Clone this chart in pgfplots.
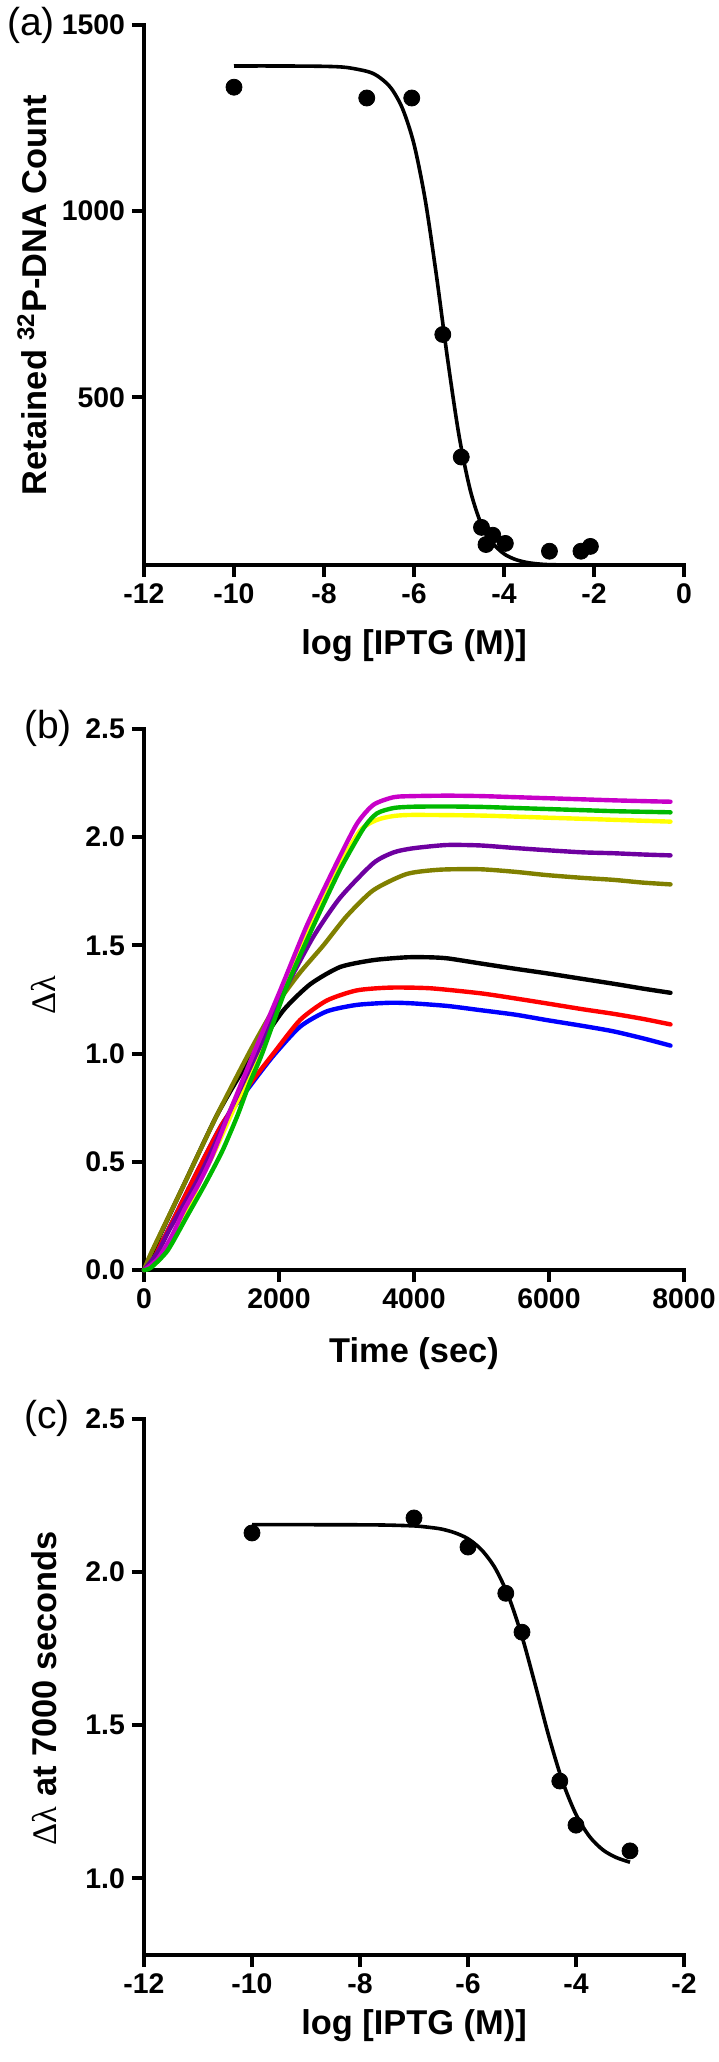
\documentclass[border=0pt]{standalone}
\usepackage{fontspec}
\setmainfont{Liberation Sans}
\newfontfamily\grk{Liberation Serif}
\usepackage{pgfplots}
\pgfplotsset{compat=1.18}
\definecolor{cmag}{RGB}{200,0,200}
\definecolor{cgreen}{RGB}{0,185,0}
\definecolor{cyellow}{RGB}{255,255,0}
\definecolor{cpurple}{RGB}{110,0,160}
\definecolor{colive}{RGB}{128,128,0}
\definecolor{cred}{RGB}{255,0,0}
\definecolor{cblue}{RGB}{0,0,255}
\pgfplotsset{
  panel/.style={
    scale only axis, width=270pt,
    axis lines=left, axis line style={-, line width=2pt, line cap=rect},
    major tick style={black, line width=2pt},
    major tick length=6pt, tick align=outside,
    enlargelimits=false, clip=false,
    tick label style={font=\fontsize{14.2}{14.2}\selectfont\bfseries},
    label style={font=\fontsize{17.2}{17.2}\selectfont\bfseries},
    xlabel style={anchor=center},
    ylabel style={anchor=center, rotate=0},
  },
  fitline/.style={black, line width=1.8pt, smooth, no marks},
  dots/.style={only marks, mark=*, mark size=4pt, black},
  trace/.style={line width=2.2pt, line cap=round, smooth, tension=0.4, no marks},
}
\begin{document}
\begin{tikzpicture}
% ---------------- (a)
\begin{axis}[panel, at={(72pt,-12.5pt)}, anchor=north west, height=270pt,
  xmin=-12, xmax=0, ymin=50, ymax=1500,
  xtick={-12,-10,-8,-6,-4,-2,0}, xticklabels={-12,-10,-8,-6,-4,-2,0},
  ytick={500,1000,1500}, yticklabels={500,1000,1500},
  xlabel={log [IPTG (M)]},
  ylabel={Retained \textsuperscript{32}P-DNA Count},
  xlabel style={at={(axis description cs:0.5,-0.15)}},
  ylabel style={at={(axis description cs:-0.207,0.5)}},
]
\addplot[fitline] coordinates {
(-10,1390) (-9,1390) (-8,1389) (-7.5,1386) (-7,1374) (-6.75,1358) (-6.5,1329)
(-6.25,1274) (-6,1180) (-5.75,1030) (-5.5,826) (-5.25,600) (-5,398) (-4.75,251)
(-4.5,158) (-4.25,109) (-4,80) (-3.75,65) (-3.5,57) (-3.25,53) (-3,51) (-2.5,50) (-2.1,50)};
\addplot[dots] coordinates {
(-10,1333) (-7.05,1304) (-6.05,1304) (-5.36,669) (-4.95,340) (-4.50,151)
(-4.40,105) (-4.25,130) (-3.97,108) (-2.99,87) (-2.29,87) (-2.08,100)};
\end{axis}
\node[anchor=west, font=\fontsize{19.5}{19.5}\selectfont] at (0pt,-12.5pt) {(a)};
% ---------------- (b)
\begin{axis}[panel, at={(72pt,-364.5pt)}, anchor=north west, height=270.5pt,
  xmin=0, xmax=8000, ymin=0, ymax=2.5,
  xtick={0,2000,4000,6000,8000}, xticklabels={0,2000,4000,6000,8000},
  ytick={0,0.5,1,1.5,2,2.5}, yticklabels={0.0,0.5,1.0,1.5,2.0,2.5},
  xlabel={Time (sec)},
  ylabel={\mdseries\grk Δλ},
  xlabel style={at={(axis description cs:0.5,-0.154)}},
  ylabel style={at={(axis description cs:-0.187,0.508)}},
]
% blue
\addplot[trace, cblue] coordinates {
(0,0) (300,0.15) (700,0.40) (1150,0.67) (1570,0.85) (1916,0.99) (2311,1.124) (2706,1.195)
(3150,1.225) (3644,1.235) (3990,1.232) (4500,1.22) (4978,1.201) (5500,1.18) (5966,1.155)
(6500,1.128) (6953,1.103) (7400,1.07) (7800,1.037)};
% red
\addplot[trace, cred] coordinates {
(0,0) (300,0.15) (700,0.40) (1150,0.67) (1570,0.86) (1916,1.0) (2311,1.155) (2706,1.245)
(3150,1.292) (3644,1.305) (4237,1.302) (4978,1.279) (5500,1.255) (5966,1.232)
(6500,1.205) (6953,1.184) (7400,1.16) (7800,1.135)};
% black
\addplot[trace, black] coordinates {
(0,0) (115,0.08) (600,0.40) (1070,0.709) (1400,0.89) (1669,1.02) (2065,1.2) (2460,1.32)
(2904,1.40) (3397,1.432) (3891,1.445) (4237,1.445) (4500,1.44) (4978,1.417) (5500,1.392)
(5966,1.371) (6500,1.345) (6953,1.323) (7400,1.30) (7800,1.281)};
% yellow
\addplot[trace, cyellow] coordinates {
(0,0) (200,0.04) (400,0.13) (640,0.27) (815,0.40) (1050,0.55) (1280,0.71) (1500,0.86)
(1700,1.0) (2070,1.31) (2460,1.59) (2860,1.85) (3200,2.03) (3450,2.08) (3700,2.098)
(4000,2.103) (5000,2.10) (6000,2.09) (7000,2.08) (7800,2.072)};
% olive
\addplot[trace, colive] coordinates {
(0,0) (115,0.085) (600,0.40) (1070,0.709) (1585,1.02) (1950,1.22) (2300,1.37) (2657,1.50)
(3002,1.635) (3397,1.755) (3891,1.83) (4385,1.85) (4978,1.852) (5500,1.84) (5966,1.825)
(6500,1.812) (6953,1.803) (7400,1.79) (7800,1.782)};
% purple
\addplot[trace, cpurple] coordinates {
(0,0) (200,0.08) (400,0.20) (766,0.40) (1000,0.55) (1235,0.709) (1550,0.92) (1800,1.09)
(2114,1.31) (2509,1.54) (2904,1.72) (3397,1.88) (3700,1.93) (3990,1.949) (4484,1.964)
(4978,1.962) (5500,1.95) (5966,1.94) (6500,1.93) (6953,1.926) (7400,1.92) (7800,1.916)};
% magenta
\addplot[trace, cmag] coordinates {
(0,0) (200,0.05) (400,0.15) (600,0.28) (815,0.40) (1000,0.52) (1230,0.70) (1570,0.96)
(2015,1.29) (2410,1.59) (2806,1.85) (3150,2.06) (3400,2.15) (3700,2.185) (4000,2.19)
(4500,2.192) (5000,2.19) (5500,2.185) (6000,2.18) (6500,2.175) (7000,2.17) (7500,2.166) (7800,2.164)};
% green
\addplot[trace, cgreen] coordinates {
(0,0) (100,0.01) (350,0.09) (640,0.25) (910,0.40) (1160,0.55) (1380,0.71) (1560,0.86)
(1750,1.0) (2114,1.31) (2509,1.59) (2904,1.85) (3250,2.04) (3450,2.11) (3700,2.135)
(4000,2.141) (4500,2.142) (5000,2.14) (5500,2.135) (6000,2.13) (6500,2.125) (7000,2.12)
(7500,2.117) (7800,2.115)};
\end{axis}
\node[anchor=west, font=\fontsize{19.5}{19.5}\selectfont] at (8.5pt,-364pt) {(b)};
% ---------------- (c)
\begin{axis}[panel, at={(72pt,-709.5pt)}, anchor=north west, height=268pt,
  xmin=-12, xmax=-2, ymin=0.75, ymax=2.5,
  xtick={-12,-10,-8,-6,-4,-2}, xticklabels={-12,-10,-8,-6,-4,-2},
  ytick={1,1.5,2,2.5}, yticklabels={1.0,1.5,2.0,2.5},
  xlabel={log [IPTG (M)]},
  ylabel={{\mdseries\grk Δλ} at 7000 seconds},
  xlabel style={at={(axis description cs:0.5,-0.132)}},
  ylabel style={at={(axis description cs:-0.185,0.498)}},
]
\addplot[fitline] coordinates {
(-10,2.155) (-9,2.155) (-8,2.1546) (-7.5,2.1537) (-7,2.151) (-6.75,2.147) (-6.5,2.141)
(-6.25,2.129) (-6,2.109) (-5.75,2.073) (-5.5,2.014) (-5.25,1.921) (-5,1.790) (-4.75,1.629)
(-4.5,1.462) (-4.25,1.317) (-4,1.209) (-3.75,1.137) (-3.5,1.093) (-3.25,1.068) (-3,1.053)};
\addplot[dots] coordinates {
(-10,2.128) (-7,2.177) (-6,2.082) (-5.3,1.931) (-5,1.804) (-4.3,1.318) (-4,1.174) (-3,1.09)};
\end{axis}
\node[anchor=west, font=\fontsize{19.5}{19.5}\selectfont] at (8.5pt,-709pt) {(c)};
\pgfresetboundingbox
\path[use as bounding box] (0pt,0pt) rectangle (359pt,-1031pt);
\end{tikzpicture}
\end{document}
